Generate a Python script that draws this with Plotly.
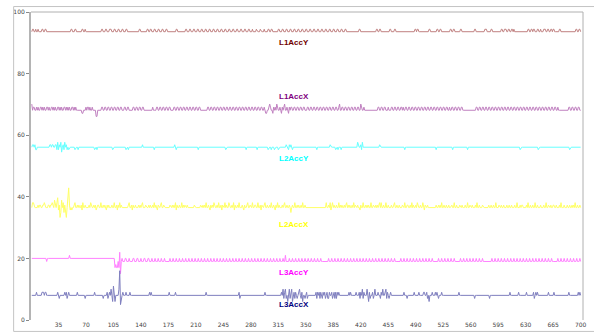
import plotly.graph_objects as go

# ---- data: one character per sample (x = 1..700); level index -> value = OFFSET + index*STEP
LEVELS = "0123456789ABCDEFG"

L1ACCY_OFFSET, L1ACCY_STEP = 89.6, 0.8
L1ACCY = """
5665565565 5556655665 5555555555 5555555555 5555555555
6655566555 5555665565 5555555555 5555555556 6555665556
6655566555 6655566555 6655555555 5555555665 5555555665
5665556655 5665556655 5665555555 5555665555 5555556655
5665556655 5665556655 5665556655 5665556655 5665556655
5665556655 5665556655 5665556655 5655556555 5655556555
5665566555 5555665556 6555665556 6555665556 6555665556
6555665556 6555665556 6555665556 6555665556 6555665556
6555555555 5555555665 5555555555 5555555556 6556655555
5555556655 5566555555 5555555555 5555555566 5665555555
5555556655 5555556655 6655555555 5556655665 5555556655
5555555555 5555665555 5555555666 5555566555 5555555566
5566655665 5665655555 5555555555 5566556656 6555665565
5566655665 5665665555 5566555555 5555555555 5556655665
"""

L1ACCX_OFFSET, L1ACCX_STEP = 63.1, 1.0
L1ACCX = """
7566556565 5665656556 6565566565 6556656565 5665656565
5665656555 5555445556 5665655655 5533555556 6556655665
5665566556 6556655566 5566555556 6556655665 5665555555
5555655556 6556655665 5665566555 5665566556 6556655665
5665566556 6556655555 5555665566 5566556655 6655665566
5566556655 6655665566 5566556655 6655665566 5566556544
5567655465 6576556546 5675565465 6655665566 5566556655
5665566556 6556655665 5665566556 6556655665 5675566556
6556655665 5665566557 6556555555 5555555555 5665566556
6555655566 5566556655 6656556655 6655665566 5566556655
6655665566 5566556655 6655665566 5565566556 6556655665
5555555555 5555556655 6655665566 5566556655 6655665566
5566556655 6655665566 5566556655 6655665566 5566556655
6655665566 5566556655 6555555555 5555665566 5566556655
"""

L2ACCY_OFFSET, L2ACCY_STEP = 52.1, 0.8
L2ACCY = """
5665644555 5555555555 5556656655 6647465735 6475645455
5555545554 5555555555 5555555555 4554555555 5555555555
5554555555 5555555555 4554555555 5555555555 5655555555
5555554555 5555555555 5555555555 5565455555 5555555555
5555555555 5545555555 5555555555 5555555555 5555555455
5555555555 5555555555 5554555555 5555555455 5555555555
5455545554 5555455555 5555655465 6545555555 5555555555
5555555555 5554555555 5555555555 6555555455 4555455555
5555555555 5555576556 4755555555 5555555555 5556555555
5555555555 5555555555 5555545555 5555555555 5555555555
5555555555 5555545555 5555555555 5555554555 5555555555
5555545555 5555555555 5555555555 5555555555 5555555555
5555555555 5555555555 5545555555 5555555555 5555545555
5555555555 5555555555 5555555555 5555545555 5555555555
"""

L2ACCX_OFFSET, L2ACCX_STEP = 32.5, 0.8
L2ACCX = """
5776555565 6655667655 5665667658 6579461385 7364159D64
5455675565 6556475565 5556576556 5645665575 5656546565
5565575564 6575655555 5556755646 5565556565 6755565556
5655657565 4655675565 5555556556 5657465565 5756565565
5555555655 5555565565 6575565465 6576556575 5646557565
5765565746 5565755565 4655675565 5755665575 5646556755
6556575565 4657565556 5675565565 3565575565 6556575565
5555555555 5555555555 5555575565 7467565565 5756565565
6756565565 7565565546 5575565656 5575565565 6567575565
5755655565 5675565565 5565575566 5565756556 5765565575
4655655555 5555565565 6575565565 5655665575 5655565565
5565575565 5655565755 6555655555 5565565565 5755565565
5655565565 5655565575 5565665555 6575565565 5755655565
5565575565 5655665565 5565755565 5565565565 6575565565
"""

L3ACCY_OFFSET, L3ACCY_STEP = 14.0, 1.0
L3ACCY = """
6666666666 6666666665 6666666666 6666666666 6666666676
6666666666 6666666666 6666666666 6666666666 6666666666
6666663433 5381565556 6555655556 6555665556 5556655566
5556555655 5655565556 5555556555 6555655565 5565556555
6555655565 5565556555 6555655565 5565556555 6555655565
5565556555 6555655565 5565556555 6555655565 5565556555
6555655565 5565556555 6557555565 5565556555 6555655565
5565556555 6555655565 5555555565 5565556555 6555655565
5565556555 6555655565 5565556555 6555655565 5565556555
6555655565 5565555555 6555655565 5565556555 6555655565
5565556555 6555555565 5565556555 6555655565 5555556555
6555655565 5565556555 6555655555 5555556555 6555655565
5565556555 6555655565 5565556555 6555655565 5565556555
6555655565 5565555555 6555655565 5565556555 6555655565
"""

L3ACCX_OFFSET, L3ACCX_STEP = 0.0, 1.0
L3ACCX = """
8888889888 8889998998 8888888888 8889878888 8898978988
8888888898 8888888878 8888888888 9888888888 8788889789
8A86B86888 8AG5789888 9888898888 8888888888 8888888888
9898888888 8888888888 8888898888 8889888888 8888888888
8888888888 8888888888 8898888888 8888888888 8888888888
8888888888 8888978888 8888888888 8888888888 8888888988
8888888888 8888888898 A79A7869A7 9A68979878 9A87968878
9788888888 8897989798 7989789779 8897897979 8988888888
8888989888 8889888979 8A79888A86 9788978A88 8988798A88
9A79878988 8888888888 8888988878 8888888988 8889888889
9889786888 9888989878 8898888888 8888888888 8888988888
8888888888 8888788888 8888888888 8887888888 8888888888
8888888889 8888888888 9888888888 9888888889 7898988888
8888888898 8888898888 8888888888 8888988888 8888889898
"""

SERIES_NAMES = ["L1AccY", "L1AccX", "L2AccY", "L2AccX", "L3AccY", "L3AccX"]
X_TICKS = list(range(35, 701, 35))
Y_TICKS = [0, 20, 40, 60, 80, 100]


def decode(code, offset, step):
    s = "".join(code.split())
    return [round(offset + LEVELS.index(c) * step, 3) for c in s]


series = {
    "L1AccY": decode(L1ACCY, L1ACCY_OFFSET, L1ACCY_STEP),
    "L1AccX": decode(L1ACCX, L1ACCX_OFFSET, L1ACCX_STEP),
    "L2AccY": decode(L2ACCY, L2ACCY_OFFSET, L2ACCY_STEP),
    "L2AccX": decode(L2ACCX, L2ACCX_OFFSET, L2ACCX_STEP),
    "L3AccY": decode(L3ACCY, L3ACCY_OFFSET, L3ACCY_STEP),
    "L3AccX": decode(L3ACCX, L3ACCX_OFFSET, L3ACCX_STEP),
}

line_colors = {
    "L1AccY": "#c08080",
    "L1AccX": "#c080c0",
    "L2AccY": "#66ffff",
    "L2AccX": "#ffff66",
    "L3AccY": "#ff80ff",
    "L3AccX": "#7f7fbf",
}
label_colors = {
    "L1AccY": "#700000",
    "L1AccX": "#800080",
    "L2AccY": "#00ffff",
    "L2AccX": "#ffff00",
    "L3AccY": "#ff00ff",
    "L3AccX": "#000080",
}
label_pos = {
    "L1AccY": (335, 90.0),
    "L1AccX": (335, 72.6),
    "L2AccY": (335, 52.3),
    "L2AccX": (335, 31.0),
    "L3AccY": (335, 15.3),
    "L3AccX": (335, 5.0),
}

fig = go.Figure()
for name in SERIES_NAMES:
    ys = series[name]
    xs = list(range(1, len(ys) + 1))
    fig.add_trace(go.Scatter(x=xs, y=ys, mode="lines", name=name,
                             line=dict(color=line_colors[name], width=1),
                             showlegend=False, hoverinfo="skip"))

for name in SERIES_NAMES:
    lx, ly = label_pos[name]
    fig.add_annotation(x=lx, y=ly, text="<b>%s</b>" % name, showarrow=False,
                       font=dict(family="Liberation Sans", size=8, color=label_colors[name]),
                       xanchor="center", yanchor="middle")

W, H = 594, 335
L, R, T, B = 31, 7, 12, 13
pw, ph = W - L - R, H - T - B

shapes = [
    # plot top and right border
    dict(type="line", xref="paper", yref="paper", x0=0, x1=1, y0=1, y1=1,
         line=dict(color="#b0b0b0", width=1)),
    dict(type="line", xref="paper", yref="paper", x0=1, x1=1, y0=0, y1=1,
         line=dict(color="#b0b0b0", width=1)),
    # outer frame
    dict(type="rect", xref="paper", yref="paper",
         x0=(13.5 - L) / pw, x1=(W + 5 - L) / pw,
         y0=(H - B - 333.5) / ph, y1=(H - B - 6.5) / ph,
         line=dict(color="#c4c4c4", width=1)),
]

fig.update_layout(
    width=W, height=H,
    margin=dict(l=L, r=R, t=T, b=B, pad=0),
    paper_bgcolor="white", plot_bgcolor="white",
    shapes=shapes,
    xaxis=dict(range=[0, 703], tickvals=X_TICKS, ticktext=[str(v) for v in X_TICKS],
               showgrid=False, zeroline=False, showline=False, ticks="",
               tickfont=dict(family="DejaVu Sans", size=6, color="#444444")),
    yaxis=dict(range=[0, 100], tickvals=Y_TICKS, ticktext=[str(v) for v in Y_TICKS],
               showgrid=False, zeroline=False, showline=True, linewidth=2,
               linecolor="#b4b4b4", ticks="outside", ticklen=3, tickcolor="#888888",
               tickwidth=1,
               tickfont=dict(family="DejaVu Sans", size=6, color="#444444")),
)

fig.write_html("out.html", config={"displayModeBar": False},
               post_script="document.body.style.margin='0';document.body.style.overflow='hidden';")
